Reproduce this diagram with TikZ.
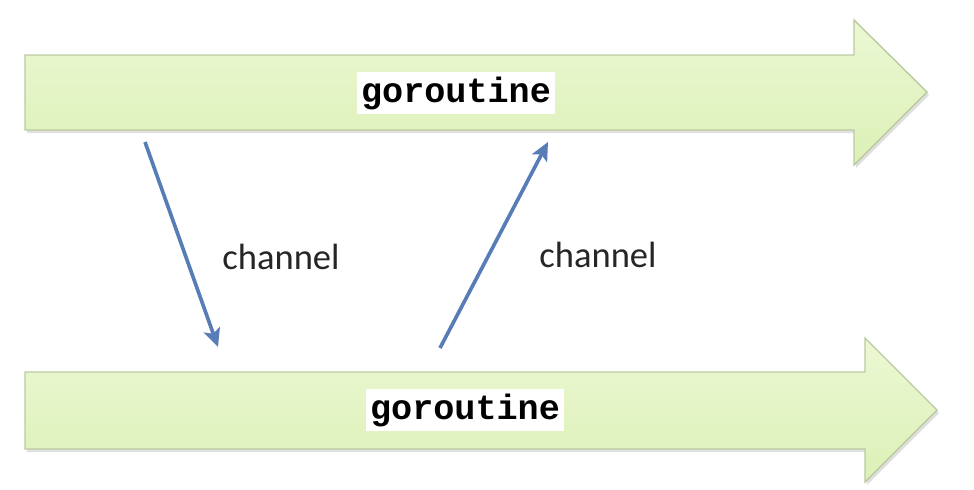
\documentclass[tikz,border=0pt]{standalone}
\usepackage{fontspec}
\setmainfont{Carlito}
\newfontfamily\gofont{Liberation Mono}
\usepackage{tikz}
\usetikzlibrary{arrows.meta}
\definecolor{tubetop}{RGB}{236,248,212}
\definecolor{tubebottom}{RGB}{220,240,182}
\definecolor{tubeedge}{RGB}{186,202,160}
\definecolor{chancolor}{RGB}{88,124,182}
\newcommand{\thickness}{2.6pt}

\begin{document}
\begin{tikzpicture}[x=0.025cm,y=-0.025cm]
\useasboundingbox (0,0) rectangle (974,489);
\tikzset{
  tube/.style={draw=tubeedge, line width=1pt, top color=tubetop, bottom color=tubebottom},
  tubeshadow/.style={fill=black!12},
  golabel/.style={fill=white, inner sep=3pt, font=\gofont\bfseries\fontsize{25}{30}\selectfont},
  chanlabel/.style={font=\fontsize{26}{30}\selectfont, text=black!85},
  chan/.style={draw=chancolor, line width=\thickness, -{Stealth[length=13pt, width=12pt, inset=3pt]}}
}
%top
\fill[tubeshadow] (27,58) -- (856,58) -- (856,23) -- (929,95) -- (856,168) -- (856,133) -- (27,133) -- cycle;
\draw[tube] (25,55) -- (854,55) -- (854,20) -- (927,92) -- (854,165) -- (854,130) -- (25,130) -- cycle;
\node[golabel] (g1) at (456,93) {goroutine};
%bottom
\fill[tubeshadow] (27,375) -- (867,375) -- (867,341) -- (939,413) -- (867,485) -- (867,452) -- (27,452) -- cycle;
\draw[tube] (25,372) -- (865,372) -- (865,338) -- (937,410) -- (865,482) -- (865,449) -- (25,449) -- cycle;
\node[golabel] (g2) at (465,410) {goroutine};
%channels
\coordinate (s1) at (145,142);
\coordinate (e1) at (218,347);
\coordinate (s2) at (440,348);
\coordinate (e2) at (548,142);
\draw[chan] (s1) -- (e1);
\draw[chan] (s2) -- (e2);
\node[chanlabel] (c1) at (281,257) {channel};
\node[chanlabel] (c2) at (598,255) {channel};
\end{tikzpicture}
\end{document}
